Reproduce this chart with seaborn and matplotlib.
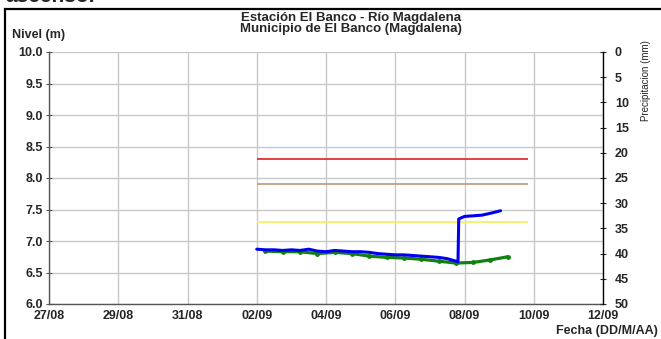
import matplotlib
matplotlib.use('Agg')
import matplotlib.pyplot as plt
import matplotlib.dates as mdates
from matplotlib.patches import Rectangle
import seaborn as sns
import pandas as pd

# --- data ---
blue_times = ['2021-09-02 00:00', '2021-09-02 06:00', '2021-09-02 12:00', '2021-09-02 18:00',
              '2021-09-03 00:00', '2021-09-03 06:00', '2021-09-03 12:00', '2021-09-03 18:00',
              '2021-09-04 00:00', '2021-09-04 06:00', '2021-09-04 12:00', '2021-09-04 18:00',
              '2021-09-05 00:00', '2021-09-05 06:00', '2021-09-05 12:00', '2021-09-05 18:00',
              '2021-09-06 00:00', '2021-09-06 06:00', '2021-09-06 12:00', '2021-09-06 18:00',
              '2021-09-07 00:00', '2021-09-07 06:00', '2021-09-07 12:00', '2021-09-07 18:00',
              '2021-09-07 19:30', '2021-09-07 20:00', '2021-09-08 00:00', '2021-09-08 06:00',
              '2021-09-08 12:00', '2021-09-08 18:00', '2021-09-09 01:00']
blue_levels = [6.87, 6.86, 6.86, 6.85, 6.86, 6.85, 6.87, 6.84,
               6.83, 6.85, 6.84, 6.83, 6.83, 6.82, 6.80, 6.79,
               6.78, 6.78, 6.77, 6.76, 6.75, 6.74, 6.72, 6.68,
               6.67, 7.35, 7.39, 7.40, 7.41, 7.44, 7.48]

green_times = ['2021-09-02 06:00', '2021-09-02 18:00', '2021-09-03 06:00', '2021-09-03 18:00',
               '2021-09-04 06:00', '2021-09-04 18:00', '2021-09-05 06:00', '2021-09-05 18:00',
               '2021-09-06 06:00', '2021-09-06 18:00', '2021-09-07 06:00', '2021-09-07 18:00',
               '2021-09-08 06:00', '2021-09-08 18:00', '2021-09-09 06:00']
green_levels = [6.84, 6.83, 6.83, 6.80, 6.82, 6.80, 6.76, 6.74,
                6.73, 6.71, 6.68, 6.65, 6.66, 6.70, 6.75]

threshold_levels = [8.3, 7.9, 7.3]
threshold_colors = ['#e03030', '#c0a080', '#f8f060']
threshold_start = '2021-09-02 00:00'
threshold_end = '2021-09-09 20:00'

blue = pd.DataFrame({'fecha': pd.to_datetime(blue_times), 'nivel': blue_levels})
green = pd.DataFrame({'fecha': pd.to_datetime(green_times), 'nivel': green_levels})

sns.set_style('white')
plt.rcParams['font.family'] = ['Liberation Sans', 'DejaVu Sans']

W, H = 661, 339
fig = plt.figure(figsize=(W / 100, H / 100), dpi=100)
ax = fig.add_axes([49 / W, 1 - 304 / H, (603 - 49) / W, (304 - 52) / H])

# thresholds
for lvl, col in zip(threshold_levels, threshold_colors):
    ax.hlines(lvl, pd.Timestamp(threshold_start), pd.Timestamp(threshold_end),
              color=col, lw=1.3, zorder=2)

sns.lineplot(data=blue, x='fecha', y='nivel', ax=ax, color='#0000ee', lw=2.2, zorder=4)
sns.lineplot(data=green, x='fecha', y='nivel', ax=ax, color='#108010', lw=2.3,
             marker='o', markersize=3.5, markeredgewidth=0, zorder=3)

ax.set_xlim(pd.Timestamp('2021-08-27'), pd.Timestamp('2021-09-12'))
ax.set_ylim(6.0, 10.0)
ax.set_yticks([6.0, 6.5, 7.0, 7.5, 8.0, 8.5, 9.0, 9.5, 10.0])
ax.yaxis.set_major_formatter(matplotlib.ticker.FormatStrFormatter('%.1f'))
ax.set_xticks(pd.date_range('2021-08-27', '2021-09-12', freq='2D'))
ax.xaxis.set_major_formatter(mdates.DateFormatter('%d/%m'))
ax.grid(True, color='#c8c8c8', lw=1)
ax.set_xlabel('')
ax.set_ylabel('')
for lab in ax.get_xticklabels() + ax.get_yticklabels():
    lab.set_fontweight('bold')
ax.tick_params(axis='both', labelsize=9, direction='inout', length=5, width=0.8,
               color='#555555', pad=2)
ax.tick_params(axis='x', pad=2)
for side in ['top', 'right']:
    ax.spines[side].set_visible(False)
for side in ['left', 'bottom']:
    ax.spines[side].set_color('#555555')
    ax.spines[side].set_linewidth(1)

ax2 = ax.twinx()
ax2.set_ylim(50, 0)
ax2.set_yticks(range(0, 51, 5))
ax2.grid(False)
for side in ['top', 'left', 'bottom']:
    ax2.spines[side].set_visible(False)
ax2.spines['right'].set_color('black')
ax2.spines['right'].set_linewidth(1)
ax2.tick_params(axis='y', labelsize=9, direction='inout', length=5, width=0.8, pad=6)
for lab in ax2.get_yticklabels():
    lab.set_fontweight('bold')
fig.text(646 / W, 1 - 81 / H, 'Precipitacion (mm)', rotation=90, ha='center', va='center',
         fontsize=7)

# texts
fig.text(351 / W, 1 - 12 / H, 'Estación El Banco - Río Magdalena\nMunicipio de El Banco (Magdalena)',
         ha='center', va='top', fontsize=9.5, fontweight='bold', linespacing=0.9)
fig.text(12 / W, 1 - 35 / H, 'Nivel (m)', ha='left', va='center', fontsize=9, fontweight='bold')
fig.text(658 / W, 1 - 331 / H, 'Fecha (DD/M/AA)', ha='right', va='center',
         fontsize=9, fontweight='bold')
fig.text(5 / W, 1 - 2 / H, 'ascenso.', ha='left', va='baseline', fontsize=15, fontweight='bold')

# outer frame
fig.add_artist(Rectangle((5 / W, -0.1), 1.2, 1 - 9.5 / H + 0.1, transform=fig.transFigure,
                         fill=False, lw=1.6, edgecolor='black'))

fig.savefig('out.png', dpi=100)
